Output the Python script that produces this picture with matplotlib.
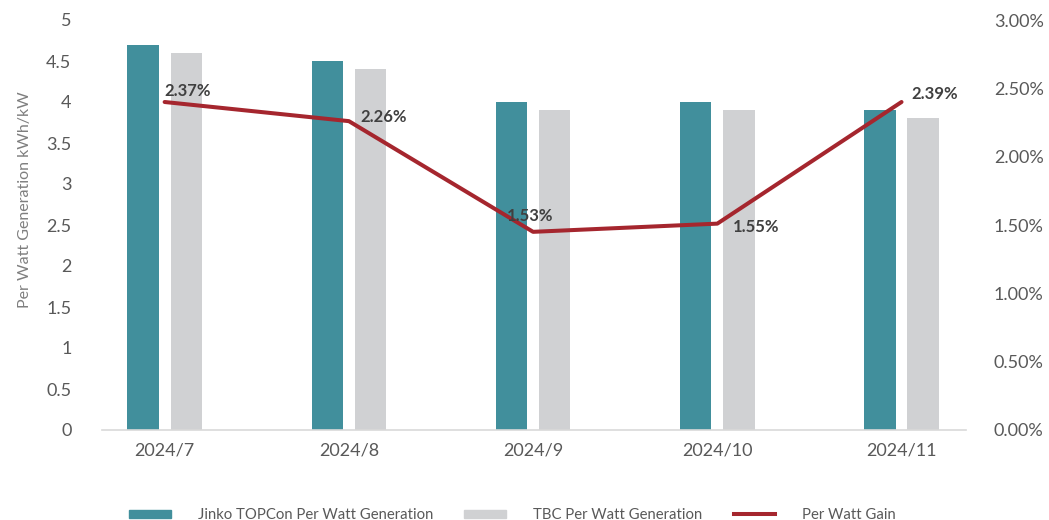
import matplotlib
matplotlib.use("Agg")
import matplotlib.pyplot as plt
from matplotlib.patches import Patch
from matplotlib.lines import Line2D
import numpy as np

categories = ["2024/7", "2024/8", "2024/9", "2024/10", "2024/11"]
jinko = [4.7, 4.5, 4.0, 4.0, 3.9]
tbc = [4.6, 4.4, 3.9, 3.9, 3.8]
gain = [2.40, 2.26, 1.45, 1.51, 2.40]  # percent, as drawn
gain_labels = ["2.37%", "2.26%", "1.53%", "1.55%", "2.39%"]
y_ticks = [0, 0.5, 1, 1.5, 2, 2.5, 3, 3.5, 4, 4.5, 5]
y2_ticks = [0.0, 0.5, 1.0, 1.5, 2.0, 2.5, 3.0]

TEAL = "#418F9C"
GRAY = "#D0D1D3"
RED = "#A5262E"
TXT = "#595959"

plt.rcParams["font.family"] = ["Lato", "DejaVu Sans"]

fig = plt.figure(figsize=(10.49, 5.2), dpi=100)
ax = fig.add_axes([102/1049, 90/520, (966-102)/1049, 410/520])
ax2 = ax.twinx()

x = np.arange(len(categories))
w = 0.17
off = 0.117
ax.bar(x - off, jinko, width=w, color=TEAL, zorder=2)
ax.bar(x + off, tbc, width=w, color=GRAY, zorder=2)

ax.set_xlim(-0.34, 4.35)
ax.set_ylim(0, 5)
ax.set_yticks(y_ticks)
ax.set_yticklabels([f"{v:g}" for v in y_ticks])
ax.set_xticks(x)
ax.set_xticklabels(categories)
ax.tick_params(axis="both", length=0, labelsize=13, colors=TXT)
ax.tick_params(axis="y", pad=22)
ax.tick_params(axis="x", pad=9)
for s in ["top", "right", "left"]:
    ax.spines[s].set_visible(False)
ax.spines["bottom"].set_color("#D9D9D9")
ax.spines["bottom"].set_linewidth(1.2)
ax.set_ylabel("Per Watt Generation kWh/kW", fontsize=11.5, color="#7F7F7F")
ax.yaxis.set_label_coords(-0.081, 0.563)

ax2.plot(x, gain, color=RED, lw=2.9, solid_capstyle="round", zorder=3)
ax2.set_ylim(0, 3)
ax2.set_yticks(y2_ticks)
ax2.set_yticklabels([f"{v:.2f}%" for v in y2_ticks])
ax2.tick_params(axis="y", length=0, labelsize=13, colors=TXT, pad=20)
for s in ["top", "right", "left", "bottom"]:
    ax2.spines[s].set_visible(False)

label_offsets = [(0, 2), (8, -2.5), (-19, 5.3), (11, -8), (7, 0)]
for xi, yi, lab, (dx, dy) in zip(x, gain, gain_labels, label_offsets):
    ax2.annotate(lab, (xi, yi), xytext=(dx, dy), textcoords="offset points",
                 ha="left", va="bottom", fontsize=12, fontweight="bold", color="#404040")

handles = [Patch(color=TEAL), Patch(color=GRAY), Line2D([], [], color=RED, lw=2.9)]
labels = ["Jinko TOPCon Per Watt Generation", "TBC Per Watt Generation", "Per Watt Gain"]
fig.legend(handles, labels, loc="center", bbox_to_anchor=(0.4885, 5/520), ncol=3,
           frameon=False, fontsize=10.75, labelcolor=TXT, handlelength=2.8,
           handleheight=0.45, handletextpad=1.8, columnspacing=2.1)

fig.savefig("out.png", dpi=100)
